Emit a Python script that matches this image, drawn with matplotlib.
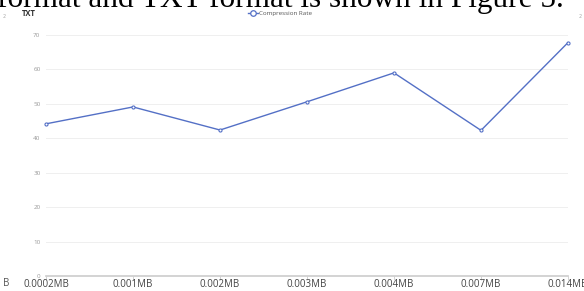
import matplotlib.pyplot as plt

categories = ["0.0002MB", "0.001MB", "0.002MB", "0.003MB", "0.004MB", "0.007MB", "0.014MB"]
compression_rate = [44.2, 49.1, 42.4, 50.6, 59.0, 42.3, 67.8]
y_ticks = [0, 10, 20, 30, 40, 50, 60, 70]

fig = plt.figure(figsize=(5.84, 2.91), dpi=100)
fig.patch.set_facecolor('white')
ax = fig.add_axes([46 / 584, 15 / 291, 522 / 584, 241 / 291])

x = list(range(len(categories)))
ax.plot(x, compression_rate, color='#5470c6', lw=1.0, marker='o', ms=2.2,
        mfc='white', mec='#5470c6', mew=0.8, clip_on=False, zorder=3)

ax.set_xlim(0, len(categories) - 1)
ax.set_ylim(0, 70)
ax.set_yticks(y_ticks)
ax.set_yticklabels([str(v) for v in y_ticks], fontsize=4.5, color='#999999', family='Open Sans')
ax.set_xticks(x)
ax.set_xticklabels(categories, fontsize=7, color='#444444', family='Open Sans')
ax.tick_params(axis='y', length=0, pad=4)
ax.tick_params(axis='x', length=3, color='#cccccc', width=0.6, pad=-1)
ax.grid(axis='y', color='#efefef', lw=0.7)
ax.set_axisbelow(True)
for s in ['top', 'right', 'left']:
    ax.spines[s].set_visible(False)
ax.spines['bottom'].set_color('#cccccc')
ax.spines['bottom'].set_linewidth(1.2)

# legend
ax.plot([], [], color='#5470c6', lw=1.0, marker='o', ms=4, mfc='white',
        mec='#5470c6', mew=0.9, label='Compression Rate')
ax.legend(loc='center', bbox_to_anchor=(280 / 584, 1 - 13 / 291), bbox_transform=fig.transFigure,
          frameon=False, handlelength=1.6, handletextpad=0.3,
          labelcolor='#555555', prop={'family': 'Open Sans', 'size': 4.5})

# surrounding page text
fig.text(-3 / 584, 1 - 7 / 291, "format and TXT format is shown in Figure 5.", family='Liberation Serif',
         fontsize=22.5, color='black', va='baseline', ha='left')
fig.text(22 / 584, 1 - 14 / 291, "TXT", fontsize=5.5, weight='bold', color='#333333',
         family='Open Sans', va='center')
fig.text(3 / 584, 1 - 16 / 291, "2", fontsize=3.5, color='#aaaaaa', va='center')
fig.text(579 / 584, 1 - 16 / 291, "2", fontsize=3.5, color='#aaaaaa', va='center')
fig.text(3 / 584, 1 - 284 / 291, "B", fontsize=7, color='#555555', family='Open Sans', va='center')

fig.savefig('out.png', dpi=100, facecolor='white')
